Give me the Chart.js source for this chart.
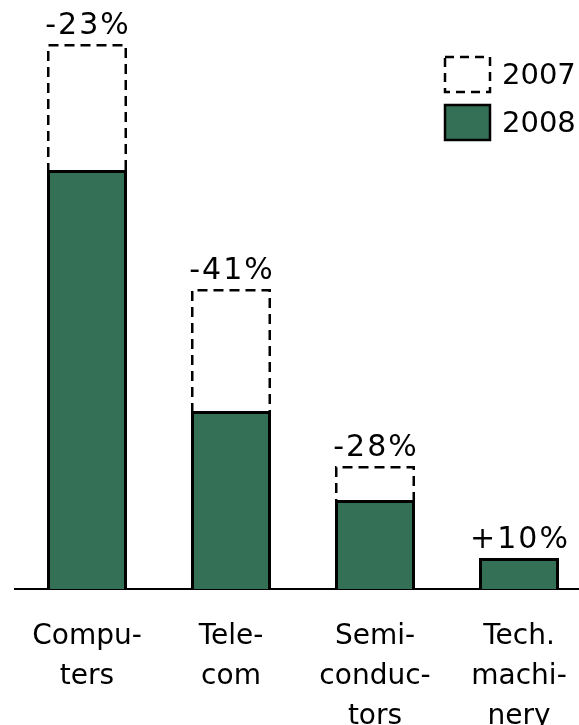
<!DOCTYPE html>
<html>
<head>
<meta charset="utf-8">
<script src="https://cdn.jsdelivr.net/npm/chart.js@4.4.1/dist/chart.umd.min.js"></script>
<style>
  html, body { margin: 0; padding: 0; background: #fff; overflow: hidden; }
  #wrap { width: 579px; height: 725px; overflow: hidden; }
</style>
</head>
<body>
<div id="wrap"><canvas id="grafico" width="591" height="725"></canvas></div>
<script>
// Dados
const categorias = [['Compu-', 'ters'], ['Tele-', 'com'], ['Semi-', 'conduc-', 'tors'], ['Tech.', 'machi-', 'nery']];
const valores2007 = [54.5, 30.0, 12.3, 2.8];
const valores2008 = [41.9, 17.8, 8.9, 3.1];
const variacoes = ['-23%', '-41%', '-28%', '+10%'];
const anos = ['2007', '2008'];

const VERDE = '#347056';
const FONTE = 'DejaVu Sans';

// contorno tracejado das barras de 2007 (o BarElement nao suporta borderDash)
const contornoTracejado = {
  id: 'contornoTracejado',
  afterDatasetDraw(chart, args) {
    if (args.index !== 0) return;
    const ctx = chart.ctx;
    ctx.save();
    ctx.strokeStyle = '#000';
    ctx.lineWidth = 2.5;
    ctx.setLineDash([10, 6]);
    args.meta.data.forEach(barra => {
      const { x, y, base, width } = barra.getProps(['x', 'y', 'base', 'width'], true);
      const esq = x - width / 2 + 1.25;
      const dir = x + width / 2 - 1.25;
      const topo = y + 1.25;
      ctx.beginPath();
      ctx.moveTo(esq, base);
      ctx.lineTo(esq, topo);
      ctx.lineTo(dir, topo);
      ctx.lineTo(dir, base);
      ctx.stroke();
    });
    ctx.restore();
  }
};

// rotulos de variacao acima da barra mais alta
const rotulosVariacao = {
  id: 'rotulosVariacao',
  afterDatasetsDraw(chart) {
    const ctx = chart.ctx;
    const m0 = chart.getDatasetMeta(0).data;
    const m1 = chart.getDatasetMeta(1).data;
    ctx.save();
    ctx.fillStyle = '#000';
    ctx.font = '30px "' + FONTE + '"';
    ctx.letterSpacing = '2px';
    ctx.textAlign = 'center';
    ctx.textBaseline = 'alphabetic';
    variacoes.forEach((txt, i) => {
      const topo = Math.min(m0[i].y, m1[i].y);
      ctx.fillText(txt, m1[i].x + 1, topo - 10);
    });
    ctx.restore();
  }
};

// legenda no canto superior direito
const legendaAnos = {
  id: 'legendaAnos',
  afterDraw(chart) {
    const ctx = chart.ctx;
    const caixas = [
      { y: 57, tracejada: true },
      { y: 105, tracejada: false }
    ];
    ctx.save();
    ctx.font = '29px "' + FONTE + '"';
    ctx.textAlign = 'left';
    ctx.textBaseline = 'middle';
    caixas.forEach((c, i) => {
      ctx.lineWidth = 2.5;
      ctx.strokeStyle = '#000';
      if (c.tracejada) {
        ctx.setLineDash([9, 6]);
      } else {
        ctx.setLineDash([]);
        ctx.fillStyle = VERDE;
        ctx.fillRect(445, c.y, 45, 35);
      }
      ctx.strokeRect(445, c.y, 45, 35);
      ctx.setLineDash([]);
      ctx.fillStyle = '#000';
      ctx.fillText(anos[i], 502, c.y + 19);
    });
    ctx.restore();
  }
};

function criarGrafico() {
  const ctx = document.getElementById('grafico').getContext('2d');

  new Chart(ctx, {
    type: 'bar',
    data: {
      labels: categorias,
      datasets: [
        {
          label: anos[0],
          data: valores2007,
          backgroundColor: 'rgba(0,0,0,0)',
          borderWidth: 0,
          grouped: false,
          order: 2
        },
        {
          label: anos[1],
          data: valores2008,
          backgroundColor: VERDE,
          borderColor: '#000',
          borderWidth: 3,
          grouped: false,
          order: 1
        }
      ]
    },
    options: {
      responsive: false,
      animation: false,
      categoryPercentage: 1,
      barPercentage: 80 / 144,
      layout: { padding: { left: 15, top: 10, right: 0, bottom: 0 } },
      plugins: {
        legend: { display: false },
        tooltip: { enabled: false }
      },
      scales: {
        x: {
          grid: { display: false },
          border: { display: true, color: '#000', width: 2 },
          ticks: {
            color: '#000',
            padding: 20,
            maxRotation: 0,
            autoSkip: false,
            font: { family: FONTE, size: 28, lineHeight: 1.43 }
          },
          afterFit: escala => { escala.height = 136; }
        },
        y: {
          display: false,
          min: 0,
          max: 57.9
        }
      }
    },
    plugins: [contornoTracejado, rotulosVariacao, legendaAnos]
  });
}

document.addEventListener('DOMContentLoaded', criarGrafico);
</script>
</body>
</html>
